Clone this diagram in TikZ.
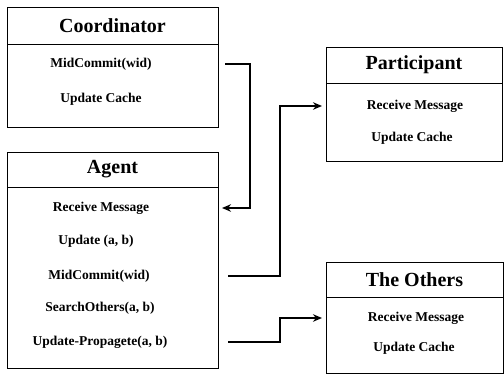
\documentclass[tikz,border=0pt]{standalone}
\usepackage{fontspec}
\setmainfont{Liberation Serif}
\usetikzlibrary{arrows.meta,calc}
\begin{document}
\begin{tikzpicture}[x=1pt,y=-1pt,
  head/.style={draw,line width=0.9pt,inner sep=0pt,outer sep=0pt,anchor=north west,
    font=\fontsize{20}{22}\selectfont\bfseries},
  body/.style={draw,line width=0.9pt,inner sep=0pt,outer sep=0pt,anchor=north west},
  item/.style={inner sep=1pt,font=\fontsize{13.5}{15}\selectfont\bfseries},
  conn/.style={line width=1.4pt,-{Stealth[length=9pt,width=7.5pt]}}]
\useasboundingbox (0,0) rectangle (504,374);

% Coordinator class box
\node[head,minimum width=211pt,minimum height=37pt] (coordH) at (7,7) {Coordinator};
\node[body,minimum width=211pt,minimum height=83pt] (coordB) at (coordH.south west) {};
\node[item] (cMid) at (101,64) {MidCommit(wid)};
\node[item] (cUpd) at (101,99) {Update Cache};

% Agent class box
\node[head,minimum width=211pt,minimum height=35pt] (agentH) at (7,152) {Agent};
\node[body,minimum width=211pt,minimum height=181pt] (agentB) at (agentH.south west) {};
\node[item] (aRecv) at (101,208) {Receive Message};
\node[item] (aUpd)  at (96,241) {Update (a, b)};
\node[item] (aMid)  at (99,276) {MidCommit(wid)};
\node[item] (aSrch) at (100,308) {SearchOthers(a, b)};
\node[item] (aProp) at (100,342) {Update-Propagete(a, b)};

% Participant class box
\node[head,minimum width=176pt,minimum height=36pt] (partH) at (326,47) {Participant};
\node[body,minimum width=176pt,minimum height=78pt] (partB) at (partH.south west) {};
\node[item] (pRecv) at (415,106) {Receive Message};
\node[item] (pUpd)  at (412,138) {Update Cache};

% The Others class box
\node[head,minimum width=177pt,minimum height=35pt] (othH) at (326,262) {The Others};
\node[body,minimum width=177pt,minimum height=76pt] (othB) at (othH.south west) {};
\node[item] (oRecv) at (416,318) {Receive Message};
\node[item] (oUpd)  at (414,348) {Update Cache};

% Message connectors
\coordinate (c1s) at ($(coordB.east |- cMid)+(7,0)$);
\coordinate (c1e) at ($(agentB.east |- aRecv)+(4,0)$);
\draw[conn] (c1s) -- (250,64) |- (c1e);

\coordinate (c2s) at ($(agentB.east |- aMid)+(10,0)$);
\coordinate (c2e) at ($(partB.west |- pRecv)+(-4,0)$);
\draw[conn] (c2s) -- (280,276) |- (c2e);

\coordinate (c3s) at ($(agentB.east |- aProp)+(10,0)$);
\coordinate (c3e) at ($(othB.west |- oRecv)+(-4,0)$);
\draw[conn] (c3s) -- (280,342) |- (c3e);
\end{tikzpicture}
\end{document}
